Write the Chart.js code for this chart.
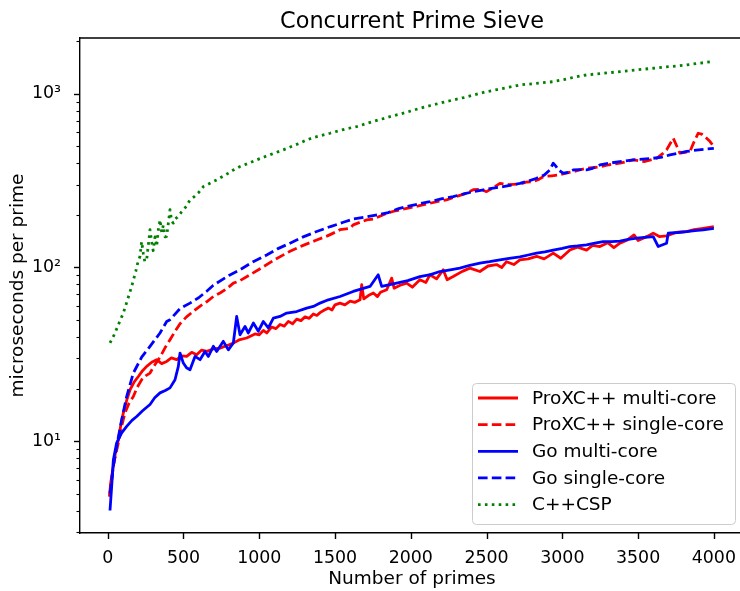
<!DOCTYPE html>
<html>
<head>
<meta charset="utf-8">
<script src="https://cdn.jsdelivr.net/npm/chart.js@4.4.0/dist/chart.umd.min.js"></script>
<style>
  html, body { margin: 0; padding: 0; background: #fff; overflow: hidden; }
  #wrap { width: 740px; height: 591px; overflow: hidden; }
  canvas { display: block; }
</style>
</head>
<body>
<div id="wrap"><canvas id="chart" width="750" height="591"></canvas></div>
<script>
// ---- data ----
const xTicks = [0, 500, 1000, 1500, 2000, 2500, 3000, 3500, 4000];
const yTicks = [3, 4, 5, 6, 7, 8, 9, 10, 20, 30, 40, 50, 60, 70, 80, 90, 100,
  200, 300, 400, 500, 600, 700, 800, 900, 1000, 2000];
const yTickLabels = { 10: "10¹", 100: "10²", 1000: "10³" };

const proMultiX = [11, 20, 37, 50, 70, 85, 103, 125, 147, 175, 202, 230, 257, 290, 323, 356, 389, 420, 455, 488,
  521, 554, 587, 620, 653, 697, 741, 785, 829, 873, 917, 972, 1000, 1027, 1050, 1082, 1110, 1137, 1165, 1192,
  1220, 1247, 1275, 1302, 1330, 1357, 1380, 1401, 1430, 1456, 1480, 1500, 1533, 1565, 1600, 1630, 1665, 1676,
  1690, 1720, 1753, 1780, 1800, 1841, 1874, 1890, 1930, 1973, 2010, 2060, 2100, 2126, 2170, 2214, 2240, 2280,
  2340, 2390, 2456, 2510, 2566, 2600, 2632, 2680, 2720, 2775, 2830, 2880, 2940, 2990, 3050, 3100, 3160, 3200,
  3248, 3300, 3340, 3380, 3430, 3473, 3500, 3560, 3600, 3640, 3688, 3750, 3820, 3870, 3930, 4000];
const proMultiY = [4.8, 5.8, 7.2, 8.5, 10.2, 12.2, 14.6, 17.2, 19.8, 22.0, 23.6, 25.5, 27.0, 28.5, 29.5, 28.0, 28.8, 30.2, 29.5, 31.0,
  30.8, 32.5, 31.5, 33.5, 32.9, 34.0, 34.4, 35.5, 36.8, 38.5, 39.3, 41.5, 41, 43.5, 42, 45.5, 44.5, 47, 46, 49,
  47.5, 50.5, 49.5, 52, 51, 54, 53, 55, 57, 58.4, 57, 61, 62.4, 61, 64, 63, 65.2, 79.6,
  66, 69, 71.3, 68, 72, 74.5, 86.9, 76, 79, 81.3, 77, 85.0, 82, 90.8, 86, 97, 85, 88.7,
  95, 99.2, 94.8, 102, 104, 100, 108, 104, 110.7, 112, 116, 112, 121, 113, 126, 131, 126, 134,
  132, 139, 130, 138, 144, 154, 143, 151, 157.7, 150.7, 152, 159, 161, 165, 168, 172];

const proSingleX = [15, 40, 70, 90, 114, 140, 169, 195, 224, 250, 279, 310, 345, 378, 411, 445, 477, 520, 565, 610,
  653, 697, 741, 790, 829, 873, 950, 1027, 1110, 1203, 1290, 1379, 1450, 1511, 1533, 1599, 1620, 1709, 1752, 1841,
  1900, 1973, 2050, 2126, 2180, 2236, 2300, 2360, 2412, 2460, 2500, 2550, 2588, 2650, 2720, 2760, 2808, 2840, 2874,
  2930, 2984, 3030, 3072, 3120, 3160, 3210, 3248, 3310, 3380, 3430, 3468, 3510, 3545, 3590, 3622, 3660, 3688, 3732,
  3755, 3776, 3810, 3842, 3870, 3897, 3920, 3941, 3975, 4000];
const proSingleY = [5.05, 7.5, 9.8, 12.0, 14.6, 16.5, 18.1, 20.5, 22.6, 23.8, 24.7, 27.5, 30.5, 34.5, 38.4, 43, 47.5, 52.0, 56, 60,
  63.5, 68.1, 71.3, 76, 81.3, 84, 92, 101, 112, 124, 134, 144, 152, 161, 165, 168, 176, 188, 190, 205,
  212, 219, 226, 234, 240, 245, 256, 266, 280, 282, 273, 290, 305, 300, 302, 310, 312, 320, 333,
  337, 341, 350, 356, 365, 372, 376, 380, 390, 398, 408, 416, 410, 407, 418, 425, 450, 475, 554,
  500, 455, 460, 465, 530, 592, 585, 566, 530, 496];

const goMultiX = [15, 26, 37, 59, 92, 125, 160, 191, 230, 279, 310, 345, 380, 411, 444, 466, 477, 499, 520, 543,
  576, 609, 642, 664, 697, 719, 763, 796, 829, 851, 873, 906, 928, 961, 994, 1027, 1060, 1093, 1137, 1181,
  1247, 1313, 1357, 1401, 1456, 1533, 1620, 1731, 1785, 1808, 1907, 1980, 2060, 2130, 2192, 2260, 2324, 2390,
  2456, 2520, 2588, 2650, 2720, 2775, 2830, 2885, 2940, 3000, 3050, 3100, 3160, 3215, 3270, 3325, 3380, 3435,
  3490, 3545, 3600, 3633, 3688, 3699, 3760, 3820, 3875, 3930, 4000];
const goMultiY = [4.0, 5.5, 7.8, 9.8, 11.2, 12.2, 13.2, 13.9, 15.0, 16.3, 17.8, 19.0, 19.6, 20.3, 22.6, 27.0, 32.2, 28.2, 26.5, 25.8,
  30.8, 29.5, 32.9, 30.8, 35.2, 32.9, 37.6, 33.6, 36.8, 52.3, 41.0, 45.8, 42.0, 47.9, 43.0, 48.9, 44.9, 51.2, 52.3, 54.7,
  55.8, 58.4, 59.7, 62.4, 65.2, 68.1, 72.8, 77.8, 90.8, 77.8, 81.3, 84, 88.7, 91, 94.8, 97, 99.2, 103,
  106, 108, 110.7, 113, 115, 118, 121, 123, 126, 129, 132, 133, 135, 138, 141, 141, 142, 145,
  147.5, 149, 150.7, 132, 138, 157.7, 159, 161, 163, 164.7, 168];

const goSingleX = [15, 35, 59, 92, 125, 169, 224, 279, 345, 389, 411, 477, 543, 600, 653, 697, 800, 873, 960, 1049,
  1120, 1203, 1290, 1379, 1470, 1555, 1620, 1709, 1780, 1851, 1920, 1973, 2050, 2126, 2200, 2280, 2350, 2412,
  2480, 2544, 2610, 2676, 2720, 2775, 2830, 2880, 2918, 2940, 2960, 2973, 3006, 3040, 3072, 3110, 3160, 3200,
  3248, 3310, 3380, 3468, 3530, 3600, 3660, 3710, 3770, 3820, 3900, 4000];
const goSingleY = [5.0, 7.0, 9.4, 13.3, 18.1, 24.7, 30.5, 35.2, 42.0, 48.9, 50.1, 58, 62.4, 67, 73, 79, 90, 97, 108, 118,
  128, 138, 150, 161, 172, 182, 190, 196, 201, 207, 218, 224, 232, 239, 248, 256, 265, 273,
  280, 286, 292, 299, 305, 314, 326, 340, 364, 398, 380, 364, 349, 352, 364, 366, 364, 372,
  389, 398, 407, 416, 420, 425, 432, 444, 455, 465, 475, 485];

const cspX = [15, 30, 48, 75, 103, 130, 158, 185, 200, 213, 224, 235, 245, 257, 268, 279, 290, 300, 312, 323,
  334, 345, 356, 367, 378, 389, 400, 411, 422, 433, 445, 460, 480, 499, 520, 543, 570, 600, 631, 660,
  690, 719, 760, 800, 829, 870, 920, 983, 1040, 1100, 1159, 1220, 1270, 1313, 1360, 1410, 1467, 1520, 1580,
  1643, 1700, 1760, 1810, 1863, 1920, 1990, 2060, 2130, 2200, 2280, 2350, 2420, 2500, 2570, 2650, 2720,
  2800, 2870, 2940, 3010, 3080, 3160, 3230, 3300, 3380, 3450, 3520, 3600, 3670, 3750, 3820, 3900, 3985];
const cspY = [36.8, 39, 42.0, 48, 54.7, 65, 77.8, 95, 108, 116, 141, 120, 108, 111, 135, 165, 140, 125, 150, 132,
  165, 188, 160, 175, 150, 151, 180, 215, 185, 180, 190, 195, 205, 215, 225, 245, 255, 270, 292, 300,
  310, 319, 335, 350, 364, 380, 395, 416, 435, 455, 475, 500, 520, 542, 560, 575, 592, 610, 630,
  646, 670, 695, 715, 738, 760, 790, 824, 855, 885, 920, 950, 985, 1027, 1055, 1090, 1122,
  1140, 1155, 1172, 1205, 1245, 1281, 1300, 1318, 1338, 1358, 1378, 1400, 1420, 1442, 1463, 1495, 1528];

// ---- chart ----
const FONT = "'DejaVu Sans', sans-serif";
Chart.defaults.font.family = FONT;
Chart.defaults.color = "#000";

function pairs(xs, ys) {
  return xs.map((x, i) => ({ x: x, y: ys[i] }));
}

const dashed = [9.6, 4.2];
const dotted = [2.6, 4.3];

const datasets = [
  { label: "ProXC++ multi-core", data: pairs(proMultiX, proMultiY), borderColor: "#ff0000", borderDash: [], order: 5 },
  { label: "ProXC++ single-core", data: pairs(proSingleX, proSingleY), borderColor: "#ff0000", borderDash: dashed, order: 4 },
  { label: "Go multi-core", data: pairs(goMultiX, goMultiY), borderColor: "#0000ff", borderDash: [], order: 3 },
  { label: "Go single-core", data: pairs(goSingleX, goSingleY), borderColor: "#0000ff", borderDash: dashed, order: 2 },
  { label: "C++CSP", data: pairs(cspX, cspY), borderColor: "#008000", borderDash: dotted, order: 1 }
];
datasets.forEach(d => {
  d.borderWidth = 2.8;
  d.pointRadius = 0;
  d.fill = false;
  d.tension = 0;
  d.borderCapStyle = "butt";
  d.borderJoinStyle = "round";
});

// frame, tick marks, title, axis titles, legend
const decor = {
  id: "decor",
  afterDraw(chart) {
    const ctx = chart.ctx;
    const a = chart.chartArea;
    const xs = chart.scales.x, ys = chart.scales.y;
    ctx.save();
    ctx.strokeStyle = "#000";
    // top and right spines
    ctx.lineWidth = 1.4;
    ctx.beginPath();
    ctx.moveTo(a.left, a.top); ctx.lineTo(a.right, a.top);
    ctx.moveTo(a.right, a.top); ctx.lineTo(a.right, a.bottom);
    ctx.stroke();
    // x tick marks
    ctx.beginPath();
    xTicks.forEach(v => {
      const px = Math.round(xs.getPixelForValue(v)) + 0.5;
      ctx.moveTo(px, a.bottom); ctx.lineTo(px, a.bottom + 6);
    });
    ctx.stroke();
    // y tick marks
    yTicks.forEach(v => {
      const py = Math.round(ys.getPixelForValue(v)) + 0.5;
      const major = yTickLabels[v] !== undefined;
      ctx.lineWidth = major ? 1.4 : 1.1;
      ctx.beginPath();
      ctx.moveTo(a.left, py); ctx.lineTo(a.left - (major ? 6 : 3.5), py);
      ctx.stroke();
    });

    // title and axis titles
    const cx = (a.left + a.right) / 2;
    ctx.fillStyle = "#000";
    ctx.textAlign = "center";
    ctx.textBaseline = "alphabetic";
    ctx.font = "22.4px " + FONT;
    ctx.fillText("Concurrent Prime Sieve", cx, 28);
    ctx.font = "18.5px " + FONT;
    ctx.fillText("Number of primes", cx, 584);
    ctx.save();
    ctx.translate(18, (a.top + a.bottom) / 2);
    ctx.rotate(-Math.PI / 2);
    ctx.textBaseline = "middle";
    ctx.fillText("microseconds per prime", 0, 0);
    ctx.restore();

    // legend
    const bw = 263, bh = 141;
    const bx = a.right - 9 - bw, by = a.bottom - 9 - bh;
    ctx.fillStyle = "rgba(255,255,255,0.8)";
    ctx.strokeStyle = "#cccccc";
    ctx.lineWidth = 1;
    ctx.beginPath();
    ctx.roundRect(bx + 0.5, by + 0.5, bw, bh, 4);
    ctx.fill();
    ctx.stroke();
    ctx.textAlign = "left";
    ctx.textBaseline = "middle";
    ctx.font = "18.5px " + FONT;
    chart.data.datasets.forEach((d, i) => {
      const ry = by + 15 + i * 26.65;
      ctx.strokeStyle = d.borderColor;
      ctx.lineWidth = d.borderWidth;
      ctx.lineCap = "butt";
      ctx.setLineDash(d.borderDash);
      ctx.beginPath();
      ctx.moveTo(bx + 6, ry); ctx.lineTo(bx + 46, ry);
      ctx.stroke();
      ctx.setLineDash([]);
      ctx.fillStyle = "#000";
      ctx.fillText(d.label, bx + 60, ry + 1);
    });
    ctx.restore();
  }
};

new Chart(document.getElementById("chart"), {
  type: "line",
  data: { datasets: datasets },
  options: {
    responsive: false,
    animation: false,
    devicePixelRatio: 1,
    layout: { padding: { top: 38, right: 6, bottom: 0, left: 0 } },
    plugins: {
      legend: { display: false },
      tooltip: { enabled: false },
      title: { display: false }
    },
    scales: {
      x: {
        type: "linear",
        min: -183,
        max: 4199,
        bounds: "data",
        afterFit: s => { s.height = 58; },
        afterBuildTicks: s => { s.ticks = xTicks.map(v => ({ value: v })); },
        grid: { display: false },
        border: { display: true, color: "#000", width: 1.4 },
        ticks: {
          autoSkip: false, maxRotation: 0, padding: 7,
          color: "#000", font: { size: 17.4 },
          callback: v => String(v)
        }
      },
      y: {
        type: "logarithmic",
        min: 2.97,
        max: 2090,
        bounds: "data",
        afterFit: s => { s.width = 80; },
        afterBuildTicks: s => { s.ticks = yTicks.map(v => ({ value: v })); },
        grid: { display: false },
        border: { display: true, color: "#000", width: 1.4 },
        ticks: {
          autoSkip: false, padding: 11,
          color: "#000", font: { size: 17.4 },
          callback: v => yTickLabels[v] || ""
        }
      }
    }
  },
  plugins: [decor]
});
</script>
</body>
</html>
